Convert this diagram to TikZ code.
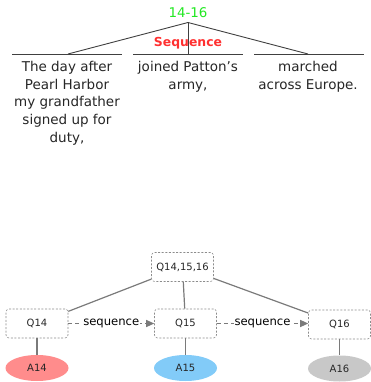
\documentclass[tikz,border=0pt]{standalone}
\usepackage{fontspec}
\setmainfont{DejaVu Sans}
\usetikzlibrary{arrows.meta,shapes.geometric}
\definecolor{edgegray}{HTML}{7A7A7A}
\definecolor{boxgray}{HTML}{8C8C8C}
\definecolor{seqgreen}{HTML}{22E822}
\definecolor{seqred}{HTML}{FF3030}
\definecolor{a14col}{HTML}{FF8C8C}
\definecolor{a15col}{HTML}{82CBF8}
\definecolor{a16col}{HTML}{C8C8C8}
\tikzset{
  treeline/.style={draw=black!75, line width=0.9pt},
  segtext/.style={align=center, anchor=base, inner sep=0pt, text=black!85,
    font=\fontsize{13.5}{17.7}\selectfont},
  qbox/.style={draw=boxgray, dashed, dash pattern=on 2pt off 1.6pt, rounded corners=3pt,
    minimum width=62pt, minimum height=29pt, inner sep=0pt, line width=0.6pt,
    font=\fontsize{10}{12}\selectfont, text=black!85},
  abox/.style={ellipse, draw=none, minimum width=63pt, minimum height=26pt, inner sep=0pt,
    font=\fontsize{10}{12}\selectfont, text=black!85},
  link/.style={draw=edgegray, line width=1.2pt},
  seqarrow/.style={draw=edgegray, line width=1.1pt, dashed, dash pattern=on 4pt off 3pt,
    -{Triangle[length=8pt,width=7pt]}},
  seqlabel/.style={fill=white, inner sep=1pt, font=\fontsize{11.6}{13}\selectfont, text=black}
}
\begin{document}
\begin{tikzpicture}[x=1pt,y=-1pt]
\useasboundingbox (0,0) rectangle (371,382);
% ---- top RST-style tree ----
\node[text=seqgreen, font=\fontsize{13.4}{15}\selectfont, inner sep=0pt] (title) at (188,13) {14-16};
\coordinate (apex) at (188,22.5);
\coordinate (l0) at (12,54); \coordinate (l1) at (122,54);
\coordinate (m0) at (133,54); \coordinate (m1) at (243,54);
\coordinate (r0) at (254,54); \coordinate (r1) at (364,54);
\coordinate (lm) at (68,54); \coordinate (mm) at (188,54); \coordinate (rm) at (308,54);
\draw[treeline] (l0) -- (l1);
\draw[treeline] (m0) -- (m1);
\draw[treeline] (r0) -- (r1);
\draw[treeline] (apex) -- (lm);
\draw[treeline] (apex) -- (mm);
\draw[treeline] (apex) -- (rm);
\node[text=seqred, font=\bfseries\fontsize{12.4}{14}\selectfont, inner sep=0pt] (rel) at (188,43.5) {Sequence};
\node[segtext] (s1) at (67,142.3) {The day after\\Pearl Harbor\\my grandfather\\signed up for\\duty,};
\node[segtext] (s2) at (188,89.2) {joined Patton’s\\army,};
\node[segtext] (s3) at (308,89.2) {marched\\across Europe.};
% ---- bottom graph ----
\node[qbox] (q) at (182.5,267) {Q14,15,16};
\node[qbox] (q14) at (37,323.5) {Q14};
\node[qbox] (q15) at (185.5,323.5) {Q15};
\node[qbox] (q16) at (339.5,324.5) {Q16};
\node[abox, fill=a14col] (a14) at (37,368) {A14};
\node[abox, fill=a15col] (a15) at (185.5,368) {A15};
\node[abox, fill=a16col] (a16) at (339.5,368.5) {A16};
\draw[link] (q) -- (q14);
\draw[link] (q) -- (q15);
\draw[link] (q) -- (q16);
\draw[link] (q14) -- (a14);
\draw[link] (q15) -- (a15);
\draw[link] (q16) -- (a16);
\draw[seqarrow] (q14.east) -- node[seqlabel] {sequence} (q15.west);
\draw[seqarrow] (q15.east) -- node[seqlabel] {sequence} (q16.west |- q15.east);
\end{tikzpicture}
\end{document}
